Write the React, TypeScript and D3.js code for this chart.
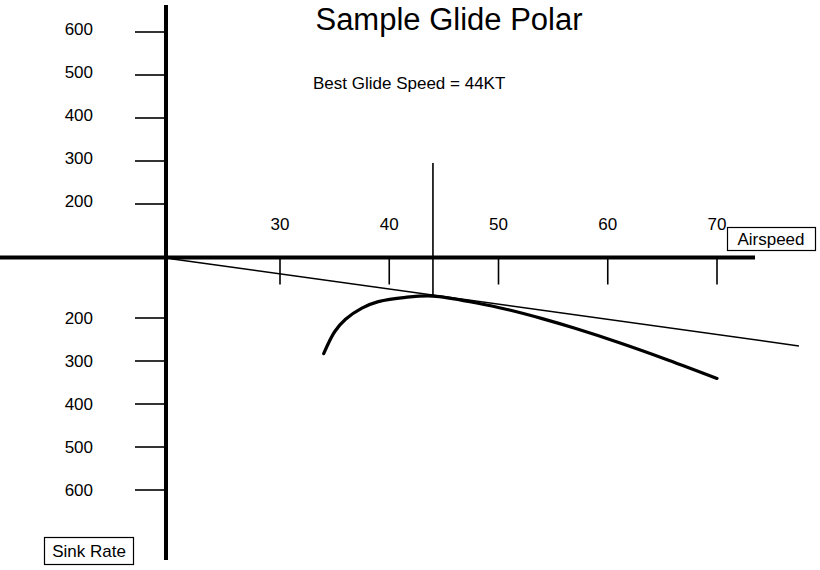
import React from "react";
import * as d3 from "d3";

const climbTicks = [200, 300, 400, 500, 600];
const sinkTicks = [200, 300, 400, 500, 600];
const speedTicks = [30, 40, 50, 60, 70];
const polarSpeed = [34, 35, 36, 37.5, 39, 41.5, 44, 48, 51, 54, 57, 61, 65.5, 70];
const polarSink = [283, 232, 203, 177, 162, 152, 149, 165, 181.5, 201.5, 224, 257, 297.5, 340.5];
const bestGlideSpeed = 44;
const glideLineSpeed = [20, 77.5];
const glideLineSink = [62, 265];
const title = "Sample Glide Polar";
const subtitle = "Best Glide Speed = 44KT";

const W = 820;
const H = 570;
const axisX = 166;
const axisY = 257.5;
const FONT = "Arial, 'Liberation Sans', sans-serif";

export default function App() {
  const x = d3.scaleLinear().domain([30, 70]).range([280, 717]);
  const ySink = d3.scaleLinear().domain([200, 600]).range([318, 490]);
  const yClimb = d3.scaleLinear().domain([200, 600]).range([204, 32]);

  const polar = polarSpeed.map((s, i) => [s, polarSink[i]] as [number, number]);
  const line = d3
    .line<[number, number]>()
    .x((d) => x(d[0]))
    .y((d) => ySink(d[1]))
    .curve(d3.curveCatmullRom.alpha(0.5));

  const glide = glideLineSpeed.map((s, i) => [s, glideLineSink[i]] as [number, number]);
  const glidePath = d3
    .line<[number, number]>()
    .x((d) => x(d[0]))
    .y((d) => ySink(d[1]))(glide);

  const bestIdx = polarSpeed.indexOf(bestGlideSpeed);
  const bestY = ySink(polarSink[bestIdx]);

  return (
    <svg
      width={W}
      height={H}
      style={{ position: "absolute", left: 0, top: 0, background: "#fff" }}
      fontFamily={FONT}
    >
      <rect width={W} height={H} fill="#fff" />
      <text x={449} y={30} fontSize={31} textAnchor="middle" fill="#000">
        {title}
      </text>
      <text x={313} y={89} fontSize={17} fill="#000">
        {subtitle}
      </text>

      {/* climb ticks (upper) */}
      {climbTicks.map((t) => (
        <g key={"c" + t}>
          <line x1={135} x2={axisX} y1={yClimb(t)} y2={yClimb(t)} stroke="#000" strokeWidth={1.6} />
          <text x={93} y={yClimb(t) - 3} fontSize={17} textAnchor="end" dominantBaseline="central">
            {t}
          </text>
        </g>
      ))}
      {/* sink ticks (lower) */}
      {sinkTicks.map((t) => (
        <g key={"s" + t}>
          <line x1={135} x2={axisX} y1={ySink(t)} y2={ySink(t)} stroke="#000" strokeWidth={1.6} />
          <text x={93} y={ySink(t)} fontSize={17} textAnchor="end" dominantBaseline="central">
            {t}
          </text>
        </g>
      ))}
      {/* speed ticks */}
      {speedTicks.map((t) => (
        <g key={"x" + t}>
          <line x1={x(t)} x2={x(t)} y1={axisY} y2={axisY + 27} stroke="#000" strokeWidth={1.6} />
          <text x={x(t)} y={224} fontSize={17} textAnchor="middle" dominantBaseline="central">
            {t}
          </text>
        </g>
      ))}

      {/* axes */}
      <line x1={0} x2={755} y1={axisY} y2={axisY} stroke="#000" strokeWidth={4} />
      <line x1={axisX} x2={axisX} y1={5} y2={560} stroke="#000" strokeWidth={4} />

      {/* best glide vertical */}
      <line x1={x(bestGlideSpeed)} x2={x(bestGlideSpeed)} y1={163} y2={bestY} stroke="#000" strokeWidth={1.6} />

      {/* tangent glide line */}
      <path d={glidePath || ""} fill="none" stroke="#000" strokeWidth={1.5} />

      {/* polar curve */}
      <path d={line(polar) || ""} fill="none" stroke="#000" strokeWidth={3.2} strokeLinecap="round" />

      {/* axis title boxes */}
      <rect x={727.5} y={227.5} width={88} height={23} fill="#fff" stroke="#000" strokeWidth={1.2} />
      <text x={771} y={239.5} fontSize={17} textAnchor="middle" dominantBaseline="central">
        Airspeed
      </text>
      <rect x={44.5} y={537.5} width={89} height={27} fill="#fff" stroke="#000" strokeWidth={1.2} />
      <text x={89} y={551.5} fontSize={17} textAnchor="middle" dominantBaseline="central">
        Sink Rate
      </text>
    </svg>
  );
}
